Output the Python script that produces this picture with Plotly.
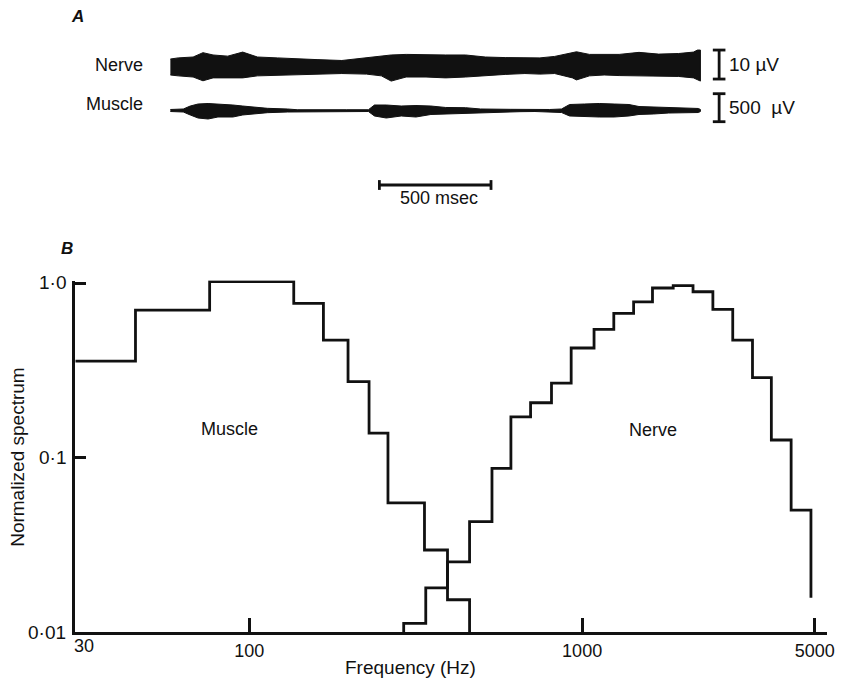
import math
import plotly.graph_objects as go

W, H = 845, 678

# ---------------- Panel B data (normalized spectra, stepped frequency bands) ----------------
muscle_edges = [30, 45.5, 76, 136, 167, 198, 229, 261, 336, 394, 459]
muscle_spec = [0.357, 0.70, 1.017, 0.765, 0.471, 0.272, 0.138, 0.055, 0.0295, 0.0153]
nerve_edges = [291, 339, 394, 459, 536, 611, 700, 809, 927, 1086, 1245, 1428, 1627,
               1878, 2154, 2471, 2835, 3250, 3703, 4246, 4870]
nerve_spec = [0.0112, 0.0179, 0.0252, 0.0429, 0.0867, 0.171, 0.206, 0.267, 0.424, 0.543,
              0.67, 0.78, 0.936, 0.965, 0.891, 0.707, 0.471, 0.287, 0.126, 0.050]
nerve_end_value = 0.0157
floor_value = 0.01

x_tick_vals = [100, 1000, 5000]
x_tick_text = ["100", "1000", "5000"]
y_tick_vals = [0.01, 0.1, 1.0]
y_tick_text = ["0·01", "0·1", "1·0"]

# ---------------- Panel A data (recording envelopes) ----------------
nerve_t = [0, 35, 102, 146, 191, 257, 324, 390, 479, 568, 657, 768, 878, 945, 989, 1056,
           1145, 1233, 1322, 1411, 1500, 1588, 1655, 1721, 1801, 1819, 1877, 1943, 2010,
           2099, 2187, 2276, 2343, 2361, 2374]
nerve_upper = [2.4, 2.8, 3.1, 4.6, 3.8, 3.4, 4.8, 3.1, 2.8, 2.4, 2.2, 1.9, 2.8, 3.4, 3.8, 4.0,
               3.8, 3.8, 3.8, 3.1, 2.9, 2.8, 2.8, 3.3, 4.8, 4.9, 4.0, 4.0, 4.0,
               4.7, 4.1, 4.3, 4.8, 5.5, 5.5]
nerve_lower = [-3.1, -3.4, -3.8, -5.1, -4.1, -4.1, -4.1, -3.4, -3.4, -3.1, -2.9, -2.6, -2.8,
               -3.4, -5.2, -3.8, -3.8, -4.1, -3.8, -3.4, -2.9, -2.6, -2.8, -2.6, -4.1, -4.8,
               -3.4, -3.1, -3.3, -3.4, -3.4, -3.6, -4.1, -4.8, -5.2]

muscle_t = [0, 58, 89, 124, 169, 213, 280, 324, 382, 435, 524, 568, 790, 887, 914, 967,
            1034, 1100, 1167, 1233, 1322, 1389, 1522, 1566, 1633, 1699, 1752, 1788, 1855,
            1921, 1988, 2054, 2099, 2165, 2232, 2298, 2365, 2374]
muscle_upper = [18, 27, 80, 116, 125, 116, 98, 80, 62, 39, 27, 14, 14, 14, 98, 98, 80, 89, 80,
                54, 50, 27, 21, 18, 14, 18, 27, 107, 116, 125, 116, 107, 71, 62, 45, 39, 36, 18]
muscle_lower = [-18, -27, -80, -134, -152, -116, -116, -80, -62, -39, -27, -18, -18, -18, -98,
                -134, -98, -116, -71, -54, -50, -32, -27, -21, -18, -27, -36, -98, -107, -116,
                -116, -98, -71, -62, -45, -39, -36, -18]

nerve_scale_uv = 10
muscle_scale_uv = 500
time_scale_ms = 500

# ---------------- layout geometry (pixels) ----------------
def px(x):
    return x / W

def py(y):
    return 1 - y / H

FONT = "Liberation Sans, Arial, Helvetica, sans-serif"
BLACK = "#111111"
LW = 2.8

# Panel B axes
xB_left, xB_right = 76, 835
yB_bottom, yB_top = 632, 280.5
px_per_dec_x = 336.0
px_per_dec_y = 174.5
xB_range = [math.log10(30), math.log10(30) + (xB_right - xB_left) / px_per_dec_x]
yB_range = [-2, -2 + (yB_bottom - yB_top) / px_per_dec_y]

# Panel A axes (full figure)
ms_per_px = time_scale_ms / 112.7
t0_px = 172
nerve_uv_per_px = nerve_scale_uv / 29.0
nerve_center_px = 66
muscle_uv_per_px = muscle_scale_uv / 28.0
muscle_center_px = 110.5

fig = go.Figure()

# ---- Panel B traces ----
mx = list(muscle_edges)
my = list(muscle_spec) + [floor_value]
fig.add_trace(go.Scatter(x=mx, y=my, mode="lines", line=dict(shape="hv", color=BLACK, width=LW),
                         xaxis="x", yaxis="y", showlegend=False, hoverinfo="skip"))
nx = [nerve_edges[0]] + list(nerve_edges)
ny = [floor_value] + list(nerve_spec) + [nerve_end_value]
fig.add_trace(go.Scatter(x=nx, y=ny, mode="lines", line=dict(shape="hv", color=BLACK, width=LW),
                         xaxis="x", yaxis="y", showlegend=False, hoverinfo="skip"))

# ---- Panel A traces ----
fig.add_trace(go.Scatter(x=nerve_t + nerve_t[::-1], y=nerve_upper + nerve_lower[::-1],
                         fill="toself", fillcolor=BLACK, mode="lines",
                         line=dict(color=BLACK, width=1), xaxis="x2", yaxis="y2",
                         showlegend=False, hoverinfo="skip"))
fig.add_trace(go.Scatter(x=muscle_t + muscle_t[::-1], y=muscle_upper + muscle_lower[::-1],
                         fill="toself", fillcolor=BLACK, mode="lines",
                         line=dict(color=BLACK, width=1), xaxis="x2", yaxis="y3",
                         showlegend=False, hoverinfo="skip"))

# scale bars
bar_t = (726 - t0_px) * ms_per_px
nb0 = -4.5
fig.add_trace(go.Scatter(x=[bar_t, bar_t], y=[nb0, nb0 + nerve_scale_uv], mode="lines+markers",
                         line=dict(color=BLACK, width=LW),
                         marker=dict(symbol="line-ew", size=9, line=dict(color=BLACK, width=LW)),
                         xaxis="x2", yaxis="y2", showlegend=False, hoverinfo="skip"))
mb0 = -200
fig.add_trace(go.Scatter(x=[bar_t, bar_t], y=[mb0, mb0 + muscle_scale_uv], mode="lines+markers",
                         line=dict(color=BLACK, width=LW),
                         marker=dict(symbol="line-ew", size=9, line=dict(color=BLACK, width=LW)),
                         xaxis="x2", yaxis="y3", showlegend=False, hoverinfo="skip"))
tb0 = (383 - t0_px) * ms_per_px
tb_y = (muscle_center_px - 185) * muscle_uv_per_px
fig.add_trace(go.Scatter(x=[tb0, tb0 + time_scale_ms], y=[tb_y, tb_y], mode="lines+markers",
                         line=dict(color=BLACK, width=LW),
                         marker=dict(symbol="line-ns", size=7, line=dict(color=BLACK, width=LW)),
                         xaxis="x2", yaxis="y3", showlegend=False, hoverinfo="skip"))

tickfont = dict(family=FONT, size=18, color=BLACK)

fig.update_layout(
    width=W, height=H,
    margin=dict(l=0, r=0, t=0, b=0),
    paper_bgcolor="white", plot_bgcolor="rgba(0,0,0,0)",
    xaxis=dict(type="log", domain=[px(xB_left), px(xB_right)], range=xB_range,
               tickvals=x_tick_vals, ticktext=x_tick_text, ticks="inside", ticklen=14,
               tickwidth=2.8, tickcolor=BLACK, showline=True, linecolor=BLACK, linewidth=3.2,
               showgrid=False, zeroline=False, tickfont=tickfont, anchor="y"),
    yaxis=dict(type="log", domain=[py(yB_bottom), py(yB_top)], range=yB_range,
               tickvals=y_tick_vals, ticks="inside", ticklen=11, showticklabels=False,
               tickwidth=2.8, tickcolor=BLACK, showline=True, linecolor=BLACK, linewidth=3.2,
               showgrid=False, zeroline=False, anchor="x"),
    xaxis2=dict(domain=[0, 1], range=[(0 - t0_px) * ms_per_px, (W - t0_px) * ms_per_px],
                visible=False, anchor="y2"),
    yaxis2=dict(domain=[0, 1], range=[-(H - nerve_center_px) * nerve_uv_per_px,
                                      nerve_center_px * nerve_uv_per_px],
                visible=False, anchor="x2"),
    yaxis3=dict(domain=[0, 1], range=[-(H - muscle_center_px) * muscle_uv_per_px,
                                      muscle_center_px * muscle_uv_per_px],
                visible=False, anchor="x2", overlaying="y2"),
)

def ann(text, x, y, size=18, xanchor="center", yanchor="middle", angle=0):
    fig.add_annotation(text=text, x=px(x), y=py(y), xref="paper", yref="paper",
                       showarrow=False, xanchor=xanchor, yanchor=yanchor, textangle=angle,
                       font=dict(family=FONT, size=size, color=BLACK))

# y tick labels placed on the log y axis (annotation y in log10 units)
for v, t in zip(y_tick_vals, y_tick_text):
    fig.add_annotation(text=t, x=px(69), y=math.log10(v), xref="paper", yref="y",
                       showarrow=False, xanchor="right", yanchor="middle",
                       font=dict(family=FONT, size=19, color=BLACK))

ann("<b><i>A</i></b>", 78, 17, size=17)
ann("<b><i>B</i></b>", 68, 248, size=17)
ann("Nerve", 146, 65, xanchor="right")
ann("Muscle", 146, 104, xanchor="right")
ann("10 µV", 734, 65, size=19, xanchor="left")
ann("500\u00a0\u00a0µV", 734, 107, size=19, xanchor="left")
ann("500 msec", 443, 198)
ann("Muscle", 232, 429)
ann("Nerve", 659, 430)
ann("30", 85, 646)
ann("Frequency (Hz)", 414, 667, size=19)
ann("Normalized spectrum", 17, 457, size=19, angle=-90)

fig.write_html("out.html")
